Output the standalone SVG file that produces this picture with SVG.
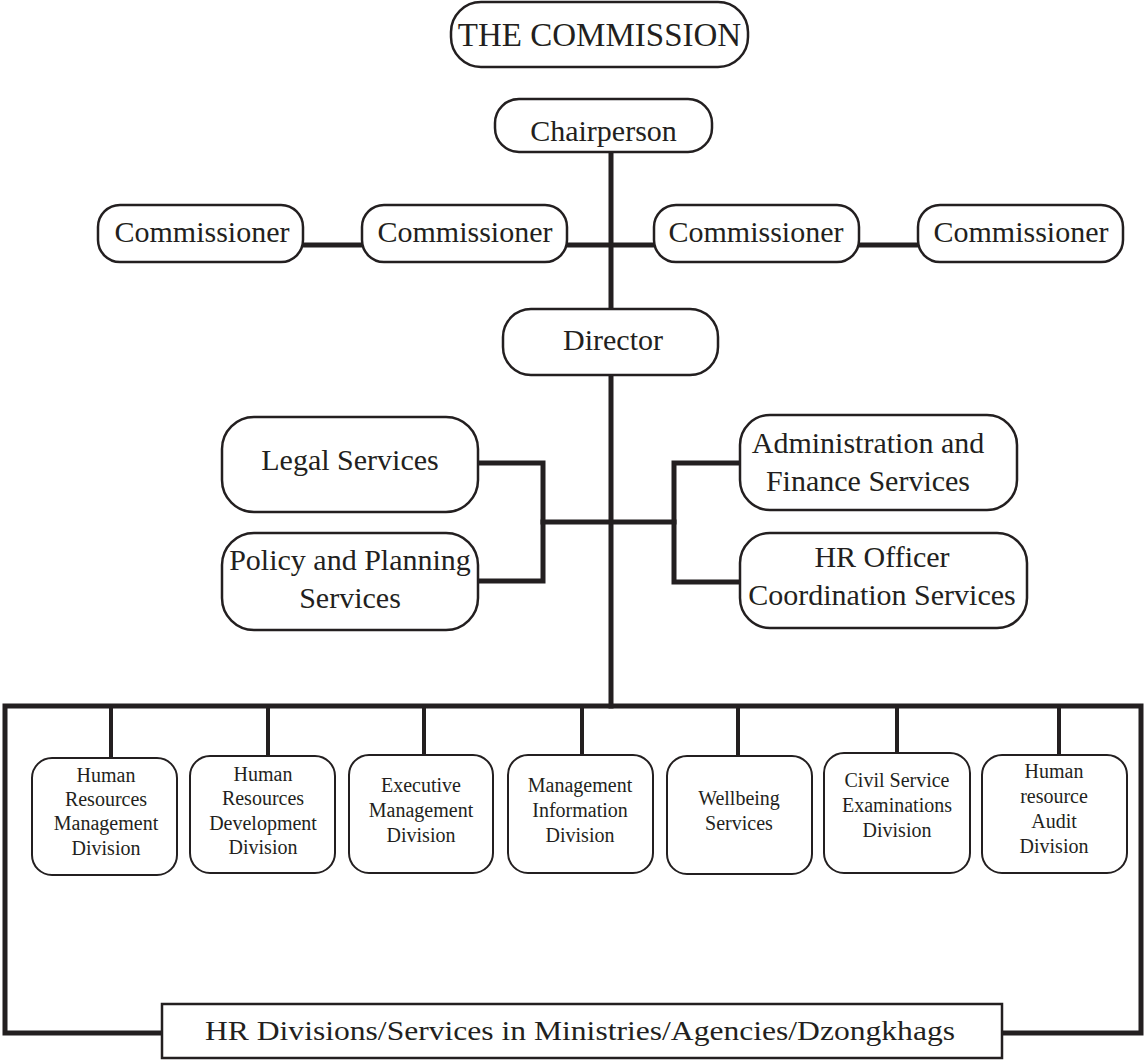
<svg xmlns="http://www.w3.org/2000/svg" width="1147" height="1061" viewBox="0 0 1147 1061">
  <style>
    .box { fill: #ffffff; stroke: #231f20; stroke-width: 2.5; }
    .div { fill: #ffffff; stroke: #231f20; stroke-width: 2; }
    .wire { fill: none; stroke: #231f20; stroke-width: 5; stroke-linejoin: miter; stroke-linecap: square; }
    .thin { fill: none; stroke: #231f20; stroke-width: 4; }
    .lbl { font-family: "Liberation Serif", "Times New Roman", serif; fill: #231f20; text-anchor: middle; }
    .big { font-size: 30px; }
    .sm { font-size: 20px; }
  </style>

  <!-- connectors -->
  <g id="connectors">
    <!-- spine: chairperson to director to division bus -->
    <line class="wire" x1="611" y1="152" x2="611" y2="309"/>
    <line class="wire" x1="611" y1="375" x2="611" y2="706"/>
    <!-- commissioner links -->
    <line class="wire" x1="303" y1="245" x2="362" y2="245"/>
    <line class="wire" x1="567" y1="245" x2="654" y2="245"/>
    <line class="wire" x1="859" y1="245" x2="918" y2="245"/>
    <!-- service brackets -->
    <line class="wire" x1="543" y1="522" x2="674" y2="522"/>
    <polyline class="wire" points="478,463 543,463 543,581 478,581"/>
    <polyline class="wire" points="740,463 674,463 674,582 740,582"/>
    <!-- division bus frame -->
    <polyline class="wire" points="162,1033 5,1033 5,706 1141,706 1141,1033 1002,1033"/>
    <!-- division drops -->
    <line class="thin" x1="111" y1="706" x2="111" y2="758"/>
    <line class="thin" x1="268" y1="706" x2="268" y2="756"/>
    <line class="thin" x1="424" y1="706" x2="424" y2="755"/>
    <line class="thin" x1="582" y1="706" x2="582" y2="755"/>
    <line class="thin" x1="738" y1="706" x2="738" y2="756"/>
    <line class="thin" x1="897" y1="706" x2="897" y2="753"/>
    <line class="thin" x1="1059" y1="706" x2="1059" y2="755"/>
  </g>

  <g id="commission">
    <rect class="box" x="451" y="2" width="297" height="65" rx="30"/>
    <text class="lbl" x="599.5" y="46" font-size="33">THE COMMISSION</text>
  </g>

  <g id="chairperson">
    <rect class="box" x="495" y="99" width="217" height="53" rx="24"/>
    <text class="lbl big" x="603.5" y="141">Chairperson</text>
  </g>

  <g id="commissioner-1">
    <rect class="box" x="98" y="205" width="205" height="57" rx="22"/>
    <text class="lbl big" x="202" y="242">Commissioner</text>
  </g>
  <g id="commissioner-2">
    <rect class="box" x="362" y="205" width="205" height="57" rx="22"/>
    <text class="lbl big" x="465" y="242">Commissioner</text>
  </g>
  <g id="commissioner-3">
    <rect class="box" x="654" y="205" width="205" height="57" rx="22"/>
    <text class="lbl big" x="756" y="242">Commissioner</text>
  </g>
  <g id="commissioner-4">
    <rect class="box" x="918" y="205" width="205" height="57" rx="22"/>
    <text class="lbl big" x="1021" y="242">Commissioner</text>
  </g>

  <g id="director">
    <rect class="box" x="503" y="309" width="215" height="66" rx="28"/>
    <text class="lbl big" x="613" y="350">Director</text>
  </g>

  <g id="legal">
    <rect class="box" x="222" y="417" width="256" height="95" rx="32"/>
    <text class="lbl big" x="350" y="470">Legal Services</text>
  </g>
  <g id="policy">
    <rect class="box" x="222" y="533" width="256" height="97" rx="32"/>
    <text class="lbl big" x="350" y="570">Policy and Planning</text>
    <text class="lbl big" x="350" y="608">Services</text>
  </g>
  <g id="admin">
    <rect class="box" x="740" y="415" width="277" height="95" rx="30"/>
    <text class="lbl big" x="868" y="453">Administration and</text>
    <text class="lbl big" x="868" y="491">Finance Services</text>
  </g>
  <g id="hr-officer">
    <rect class="box" x="740" y="533" width="287" height="95" rx="30"/>
    <text class="lbl big" x="882" y="567">HR Officer</text>
    <text class="lbl big" x="882" y="605">Coordination Services</text>
  </g>

  <g id="hrmd">
    <rect class="div" x="32" y="758" width="145" height="117" rx="20"/>
    <text class="lbl sm" x="106" y="782">Human</text>
    <text class="lbl sm" x="106" y="806">Resources</text>
    <text class="lbl sm" x="106" y="830">Management</text>
    <text class="lbl sm" x="106" y="855">Division</text>
  </g>
  <g id="hrdd">
    <rect class="div" x="190" y="756" width="145" height="117" rx="20"/>
    <text class="lbl sm" x="263" y="781">Human</text>
    <text class="lbl sm" x="263" y="805">Resources</text>
    <text class="lbl sm" x="263" y="830">Development</text>
    <text class="lbl sm" x="263" y="854">Division</text>
  </g>
  <g id="emd">
    <rect class="div" x="349" y="755" width="144" height="118" rx="20"/>
    <text class="lbl sm" x="421" y="792">Executive</text>
    <text class="lbl sm" x="421" y="817">Management</text>
    <text class="lbl sm" x="421" y="842">Division</text>
  </g>
  <g id="mid">
    <rect class="div" x="508" y="755" width="145" height="118" rx="20"/>
    <text class="lbl sm" x="580" y="792">Management</text>
    <text class="lbl sm" x="580" y="817">Information</text>
    <text class="lbl sm" x="580" y="842">Division</text>
  </g>
  <g id="wellbeing">
    <rect class="div" x="667" y="756" width="145" height="118" rx="20"/>
    <text class="lbl sm" x="739" y="805">Wellbeing</text>
    <text class="lbl sm" x="739" y="830">Services</text>
  </g>
  <g id="csed">
    <rect class="div" x="824" y="753" width="146" height="120" rx="20"/>
    <text class="lbl sm" x="897" y="787">Civil Service</text>
    <text class="lbl sm" x="897" y="812">Examinations</text>
    <text class="lbl sm" x="897" y="837">Division</text>
  </g>
  <g id="hrad">
    <rect class="div" x="982" y="755" width="145" height="118" rx="20"/>
    <text class="lbl sm" x="1054" y="778">Human</text>
    <text class="lbl sm" x="1054" y="803">resource</text>
    <text class="lbl sm" x="1054" y="828">Audit</text>
    <text class="lbl sm" x="1054" y="853">Division</text>
  </g>

  <g id="hr-agencies">
    <rect class="box" x="162" y="1004" width="840" height="54"/>
    <text class="lbl" x="580" y="1040" font-size="27" textLength="750" lengthAdjust="spacingAndGlyphs">HR Divisions/Services in Ministries/Agencies/Dzongkhags</text>
  </g>
</svg>
